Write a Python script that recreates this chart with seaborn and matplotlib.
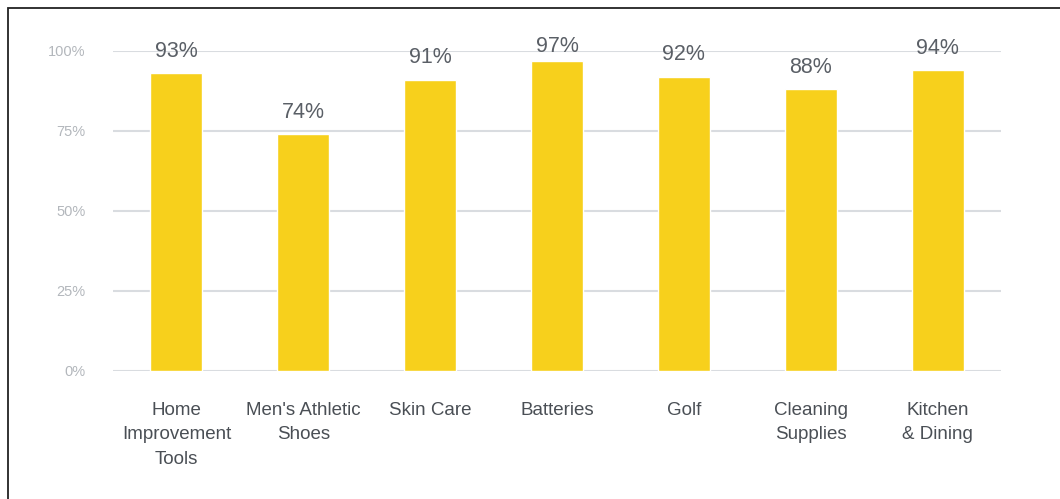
import matplotlib
matplotlib.use("Agg")
import matplotlib.pyplot as plt
import seaborn as sns
import pandas as pd
from matplotlib.patches import Rectangle

categories = ["Home\nImprovement\nTools", "Men's Athletic\nShoes", "Skin Care",
              "Batteries", "Golf", "Cleaning\nSupplies", "Kitchen\n& Dining"]
values = [93, 74, 91, 97, 92, 88, 94]
yticks = [0, 25, 50, 75, 100]
ytick_labels = ["0%", "25%", "50%", "75%", "100%"]

sns.set_theme(style="white")
plt.rcParams['font.family'] = ['Liberation Sans', 'DejaVu Sans']

df = pd.DataFrame({"category": categories, "value": values})

fig = plt.figure(figsize=(10.6, 4.99), dpi=100)
ax = fig.add_axes([113/1060, (499-371)/499, (1001-113)/1060, (371-51)/499])

sns.barplot(data=df, x="category", y="value", color="#F7D01C", saturation=1,
            width=0.41, ax=ax, zorder=3)

ax.set_xlim(-0.5, 6.5)
ax.set_ylim(0, 100)
ax.set_yticks(yticks)
ax.set_yticklabels(ytick_labels, color="#B3B7BC", fontsize=10.5)
ax.yaxis.grid(True, color="#D9DCE0", linewidth=1.5, zorder=0)
ax.xaxis.grid(False)
ax.set_axisbelow(True)
for s in ax.spines.values():
    s.set_visible(False)
ax.tick_params(axis="y", length=0, pad=20)
ax.tick_params(axis="x", length=0, pad=22, labelsize=13.5, labelcolor="#4A4F55")
plt.setp(ax.get_xticklabels(), linespacing=1.6)
ax.set_xlabel("")
ax.set_ylabel("")

label_gap = 6.9
label_cap = 101.3
for i, v in enumerate(values):
    ax.text(i, min(v + label_gap, label_cap), f"{v}%", ha="center", va="center",
            fontsize=15.5, color="#5A5F66", zorder=5, clip_on=False)

fig.patches.append(Rectangle((8/1060, -0.1), 1.2, 1.1 - 8/499,
                             transform=fig.transFigure, fill=False,
                             edgecolor="#222222", linewidth=1.3))

fig.savefig("out.png", dpi=100)
